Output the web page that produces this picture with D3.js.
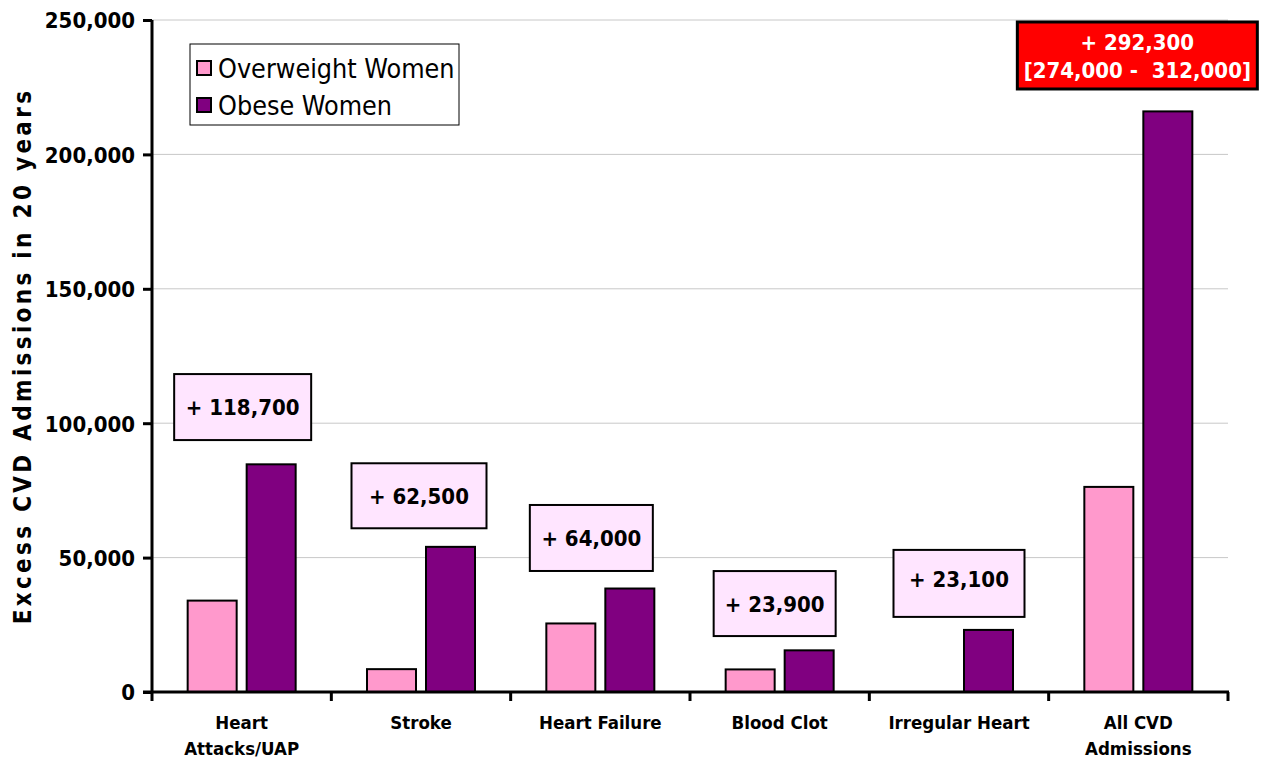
<!DOCTYPE html>
<html>
<head>
<meta charset="utf-8">
<script src="https://cdn.jsdelivr.net/npm/d3@7"></script>
<style>
  html, body { margin: 0; padding: 0; background: #fff; }
  svg { display: block; }
  text { font-family: "DejaVu Sans Condensed", "DejaVu Sans", sans-serif; white-space: pre; }
</style>
</head>
<body>
<svg id="chart" width="1263" height="762"></svg>
<script>
// ---- data ----
const categories = [["Heart", "Attacks/UAP"], ["Stroke"], ["Heart Failure"], ["Blood Clot"], ["Irregular Heart"], ["All CVD", "Admissions"]];
const seriesNames = ["Overweight Women", "Obese Women"];
const overweightValues = [34000, 8500, 25500, 8400, 0, 76300];
const obeseValues = [84700, 54000, 38500, 15500, 23100, 216000];
const totalLabels = [["+ 118,700"], ["+ 62,500"], ["+ 64,000"], ["+ 23,900"], ["+ 23,100"], ["+ 292,300", "[274,000 -  312,000]"]];
const annotationCenterValues = [106000, 73000, 57300, 32900, 40400, 236800];
const yTicks = [0, 50000, 100000, 150000, 200000, 250000];
const yTitle = "Excess CVD Admissions in 20 years";

// ---- layout ----
const W = 1263, H = 762;
const plot = { left: 152, right: 1228, top: 20, bottom: 692 };
const colors = ["#FF99CC", "#800080"];
const boxW = [137, 135, 123, 122, 131, 240];
const boxH = [66, 65, 66, 65, 67, 67];
const boxDx = [1, -2, -9, -5, 0, -1];

const svg = d3.select("#chart");

const x = d3.scaleBand().domain(d3.range(categories.length)).range([plot.left, plot.right]).padding(0);
const y = d3.scaleLinear().domain([0, 250000]).range([plot.bottom, plot.top]);

// gridlines
svg.append("g").selectAll("line").data(yTicks.filter(d => d > 0)).join("line")
  .attr("x1", plot.left).attr("x2", plot.right)
  .attr("y1", d => y(d)).attr("y2", d => y(d))
  .attr("stroke", "#c8c8c8").attr("stroke-width", 1);

// bars
const barW = 49, gap = 10;
const series = [overweightValues, obeseValues];
const barsG = svg.append("g");
series.forEach((vals, si) => {
  barsG.selectAll(null).data(vals.map((v, i) => ({ v, i }))).join("rect")
    .filter(d => d.v > 0)
    .attr("x", d => x(d.i) + x.bandwidth() / 2 + (si === 0 ? -(gap / 2 + barW) : gap / 2))
    .attr("y", d => y(d.v))
    .attr("width", barW)
    .attr("height", d => y(0) - y(d.v))
    .attr("fill", colors[si])
    .attr("stroke", "#000").attr("stroke-width", 2);
});

// y axis
const yAxis = d3.axisLeft(y).tickValues(yTicks).tickFormat(d3.format(",")).tickSize(9).tickPadding(8);
const yg = svg.append("g").attr("transform", `translate(${plot.left},0)`).call(yAxis);
yg.select(".domain").attr("stroke", "#000").attr("stroke-width", 3).attr("d", `M0,${plot.top}V${plot.bottom}`);
yg.selectAll(".tick line").attr("stroke", "#000").attr("stroke-width", 3);
yg.selectAll(".tick text").attr("font-size", 22).attr("font-weight", "bold").attr("fill", "#000")
  .attr("font-family", "'DejaVu Sans', sans-serif").attr("dy", "0.36em");

// x axis
const xg = svg.append("g").attr("transform", `translate(0,${plot.bottom})`);
xg.append("line").attr("x1", plot.left - 9).attr("x2", plot.right + 1).attr("y1", 0).attr("y2", 0)
  .attr("stroke", "#000").attr("stroke-width", 3);
const boundaries = d3.range(categories.length + 1).map(i => i < categories.length ? x(i) : plot.right);
xg.selectAll(".xt").data(boundaries).join("line").attr("class", "xt")
  .attr("x1", d => d).attr("x2", d => d).attr("y1", 0).attr("y2", 9)
  .attr("stroke", "#000").attr("stroke-width", 3);
xg.selectAll(".xl").data(categories).join("text").attr("class", "xl")
  .attr("x", (d, i) => x(i) + x.bandwidth() / 2)
  .attr("y", 37)
  .attr("text-anchor", "middle").attr("font-size", 18.5).attr("font-weight", "bold").attr("fill", "#000")
  .each(function (d) {
    d3.select(this).selectAll("tspan").data(d).join("tspan")
      .attr("x", d3.select(this).attr("x")).attr("dy", (t, j) => j === 0 ? 0 : 26).text(t => t);
  });

// y title
svg.append("text")
  .attr("transform", `translate(31,356) rotate(-90)`)
  .attr("text-anchor", "middle").attr("font-size", 24).attr("font-weight", "bold")
  .attr("font-family", "'DejaVu Sans', sans-serif").attr("letter-spacing", 3.3)
  .text(yTitle);

// annotation boxes
const annG = svg.append("g");
totalLabels.forEach((lines, i) => {
  const cx = x(i) + x.bandwidth() / 2 + boxDx[i];
  const cy = y(annotationCenterValues[i]);
  const isTotal = i === categories.length - 1;
  annG.append("rect")
    .attr("x", cx - boxW[i] / 2).attr("y", cy - boxH[i] / 2)
    .attr("width", boxW[i]).attr("height", boxH[i])
    .attr("fill", isTotal ? "#FF0000" : "#FFE5FF")
    .attr("stroke", "#000").attr("stroke-width", isTotal ? 3 : 2);
  const t = annG.append("text").attr("text-anchor", "middle")
    .attr("font-size", isTotal ? 22 : 22).attr("font-weight", "bold")
    .attr("fill", isTotal ? "#fff" : "#000");
  t.selectAll("tspan").data(lines).join("tspan")
    .attr("x", cx)
    .attr("y", (d, j) => lines.length === 1 ? cy + 8 - (i === 4 ? 4 : 0) : cy - 5 + j * 28)
    .text(d => d);
});

// legend
const lg = svg.append("g").attr("transform", "translate(190,44)");
lg.append("rect").attr("width", 269).attr("height", 81).attr("fill", "#fff").attr("stroke", "#000").attr("stroke-width", 1);
seriesNames.forEach((n, i) => {
  lg.append("rect").attr("x", 7).attr("y", 17 + i * 37).attr("width", 14).attr("height", 14)
    .attr("fill", colors[i]).attr("stroke", "#000").attr("stroke-width", 2);
  lg.append("text").attr("x", 28).attr("y", 34 + i * 37).attr("font-size", 26.7).attr("fill", "#000").text(n);
});
</script>
</body>
</html>
